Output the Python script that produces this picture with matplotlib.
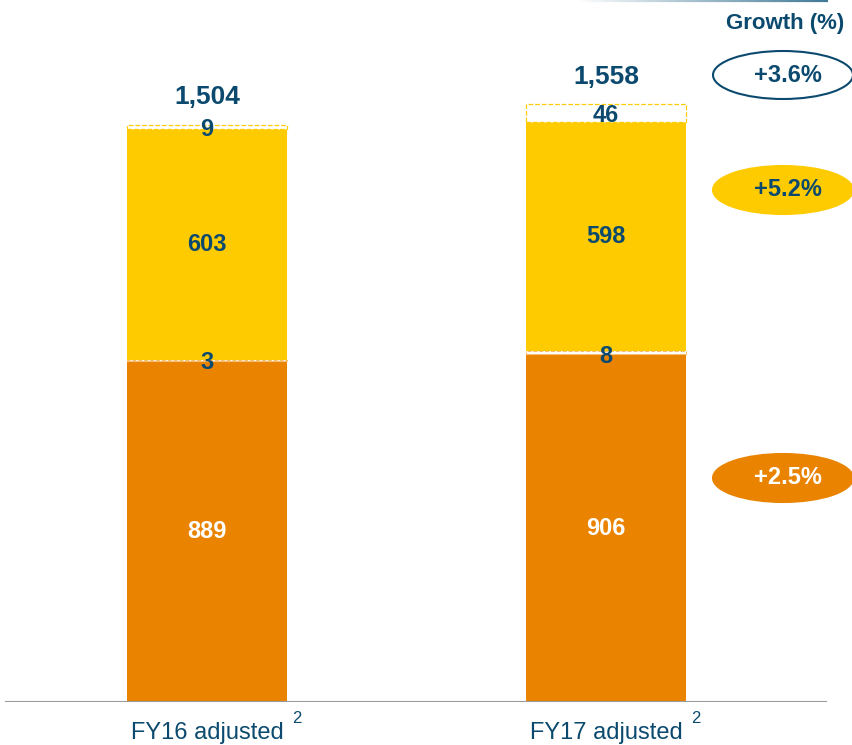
import numpy as np
import matplotlib
matplotlib.use("Agg")
import matplotlib.pyplot as plt
from matplotlib.patches import Ellipse
from matplotlib.collections import LineCollection

# Data
periods = ["FY16 adjusted", "FY17 adjusted"]
base = [889, 906]          # orange segment
gap_low = [3, 8]           # small segment between orange and yellow
middle = [603, 598]        # yellow segment
gap_top = [9, 46]          # small segment on top
totals = ["1,504", "1,558"]
growth_labels = ["+3.6%", "+5.2%", "+2.5%"]

ORANGE = "#E98300"
YELLOW = "#FECB00"
NAVY = "#0B4A6E"
W, H = 852, 745

plt.rcParams['font.family'] = ['Liberation Sans', 'DejaVu Sans']

fig = plt.figure(figsize=(W / 100, H / 100), dpi=100)
ax = fig.add_axes([5 / W, 43 / H, 822 / W, 702 / H])
ax.set_xlim(-0.506, 1.554)
ax.set_ylim(0, 1830)
ax.axis("off")

x = np.arange(len(periods))
bw = 0.401
b1 = np.array(base)
b2 = b1 + np.array(gap_low)
b3 = b2 + np.array(middle)
tops = b3 + np.array(gap_top)

ax.bar(x, base, bw, color=ORANGE, zorder=2)
ax.bar(x, gap_low, bw, bottom=b1, color="white", edgecolor="#F6BF6E",
       linestyle="--", linewidth=0.8, zorder=3)
ax.bar(x, middle, bw, bottom=b2, color=YELLOW, zorder=2)
ax.bar(x, gap_top, bw, bottom=b3, color="white", edgecolor=YELLOW,
       linestyle="--", linewidth=0.9, zorder=3)

# baseline
ax.axhline(0, color="#9A9A9A", linewidth=1.5, zorder=4)

for i in x:
    ax.text(i, b1[i] / 2, str(base[i]), ha="center", va="center",
            color="white", fontsize=17, fontweight="bold", zorder=5)
    ax.text(i, b1[i] - 5, str(gap_low[i]), ha="center", va="center",
            color=NAVY, fontsize=17, fontweight="bold", zorder=5)
    ax.text(i, b2[i] + middle[i] / 2, str(middle[i]), ha="center", va="center",
            color=NAVY, fontsize=17, fontweight="bold", zorder=5)
    ax.text(i, b3[i] + gap_top[i] / 2 - 6, str(gap_top[i]), ha="center",
            va="center", color=NAVY, fontsize=17, fontweight="bold", zorder=5)
    ax.text(i, tops[i] + 72, totals[i], ha="center", va="center",
            color=NAVY, fontsize=19, fontweight="bold", zorder=5)
    ax.text(i, -80, periods[i], ha="center", va="center",
            color=NAVY, fontsize=17, clip_on=False)
    ax.text(i + 0.226, -42, "2", ha="center", va="center",
            color=NAVY, fontsize=12, clip_on=False)

# growth column (figure pixel coordinates)
def fx(px):
    return px / W

def fy(py):
    return 1 - py / H

fig.text(fx(785), fy(23), "Growth (%)", ha="center", va="center",
         color=NAVY, fontsize=16, fontweight="bold")

ell_y = [75, 190, 478]
ell_face = ["white", YELLOW, ORANGE]
ell_edge = [NAVY, YELLOW, ORANGE]
txt_col = [NAVY, NAVY, "white"]
for lab, cy, fc, ec, tc in zip(growth_labels, ell_y, ell_face, ell_edge, txt_col):
    e = Ellipse((fx(783), fy(cy)), 140 / W, 48 / H, facecolor=fc,
                edgecolor=ec, linewidth=1.5, transform=fig.transFigure)
    fig.add_artist(e)
    fig.text(fx(788), fy(cy), lab, ha="center", va="center", color=tc,
             fontsize=17, fontweight="bold")

# faded line at the very top
xs = np.linspace(fx(575), fx(828), 60)
segs = [[(xs[k], fy(1)), (xs[k + 1], fy(1))] for k in range(len(xs) - 1)]
cols = [plt.matplotlib.colors.to_rgba("#2C6A8A", a) for a in np.linspace(0, 0.9, len(segs))]
lc = LineCollection(segs, colors=cols, linewidths=1.6, transform=fig.transFigure)
fig.add_artist(lc)

fig.savefig("out.png", dpi=100)
